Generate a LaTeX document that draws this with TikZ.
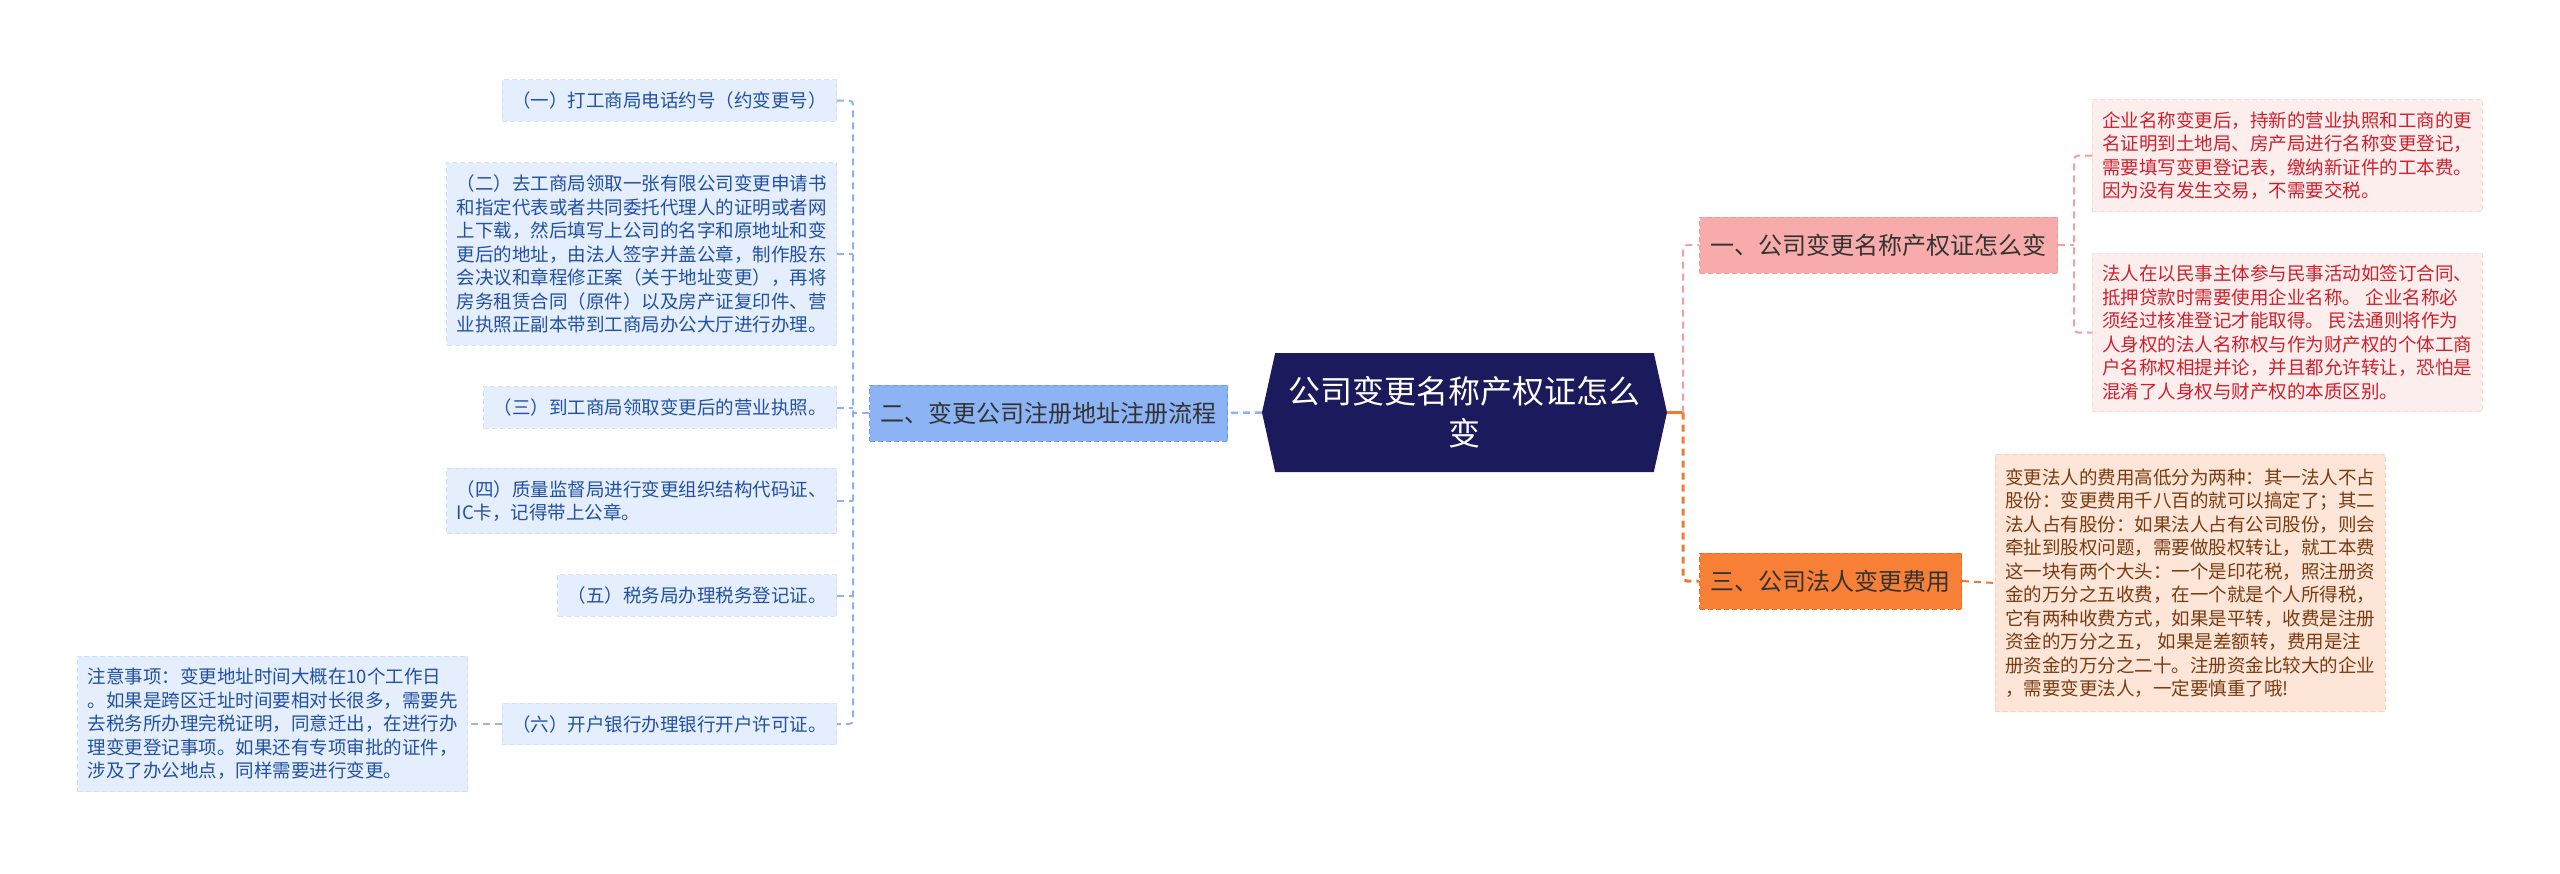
\documentclass[tikz,border=0pt]{standalone}
\usepackage{fontspec}
\setmainfont{Noto Sans CJK SC}
\usetikzlibrary{shapes.symbols}

\definecolor{hubnavy}{HTML}{1B1A5C}
\definecolor{leafblue}{HTML}{E5EEFC}
\definecolor{leafblueline}{HTML}{D2E0F8}
\definecolor{textblue}{HTML}{2150A5}
\definecolor{branchblue}{HTML}{8CB3F4}
\definecolor{branchblueline}{HTML}{6F9BE8}
\definecolor{linkblue}{HTML}{8FB1EE}
\definecolor{branchpink}{HTML}{F8ABAB}
\definecolor{branchpinkline}{HTML}{F29A9A}
\definecolor{leafpink}{HTML}{FDEEEE}
\definecolor{leafpinkline}{HTML}{F8DCDC}
\definecolor{textred}{HTML}{D0202C}
\definecolor{linkpink}{HTML}{F0A0A4}
\definecolor{branchorange}{HTML}{F77F36}
\definecolor{branchorangeline}{HTML}{E86A22}
\definecolor{leaforange}{HTML}{FDE5D8}
\definecolor{leaforangeline}{HTML}{F8D2BE}
\definecolor{textbrown}{HTML}{7A3B10}
\definecolor{linkorange}{HTML}{EE7B35}
\definecolor{linknote}{HTML}{A8B4C8}
\definecolor{textdark}{HTML}{333333}

\begin{document}
\begin{tikzpicture}[x=1pt,y=-1pt,
  leaf/.style={align=left,inner xsep=10pt,inner ysep=12pt,line width=0.8pt,
    dash pattern=on 5pt off 3pt,font=\fontsize{18.5}{23.5}\selectfont},
  blueleaf/.style={leaf,anchor=east,fill=leafblue,draw=leafblueline,text=textblue},
  pinkleaf/.style={leaf,anchor=west,fill=leafpink,draw=leafpinkline,text=textred},
  orangeleaf/.style={leaf,anchor=west,fill=leaforange,draw=leaforangeline,text=textbrown,inner ysep=14pt},
  branch/.style={inner xsep=11pt,minimum height=56pt,line width=1pt,
    dash pattern=on 5pt off 3pt,font=\fontsize{24}{30}\selectfont},
  linkdash/.style={line width=2pt,dash pattern=on 7pt off 5pt},
  bluedash/.style={linkdash,linkblue},
  pinkdash/.style={linkdash,linkpink},
  orangedash/.style={linkdash,linkorange}]

  \fill[white] (0,0) rectangle (2560,873);
  \useasboundingbox (0,0) rectangle (2560,873);

  % centre
  \node[shape=signal,signal to=west and east,signal pointer angle=155,
    fill=hubnavy,text=white,minimum width=405pt,minimum height=119pt,
    align=center,font=\fontsize{32}{42}\selectfont] (hub) at (1464.5,412.5)
    {公司变更名称产权证怎么\\变};

  % main branches
  \node[branch,anchor=east,fill=branchblue,draw=branchblueline,text=textdark] (br2) at (1228,413)
    {二、变更公司注册地址注册流程};
  \node[branch,anchor=west,fill=branchpink,draw=branchpinkline,text=textdark] (br1) at (1699,245)
    {一、公司变更名称产权证怎么变};
  \node[branch,anchor=west,fill=branchorange,draw=branchorangeline,text=textdark] (br3) at (1699,581)
    {三、公司法人变更费用};

  % left leaves
  \node[blueleaf] (n1) at (837,100.5) {（一）打工商局电话约号（约变更号）};
  \node[blueleaf] (n2) at (837,254) {（二）去工商局领取一张有限公司变更申请书\\
    和指定代表或者共同委托代理人的证明或者网\\
    上下载，然后填写上公司的名字和原地址和变\\
    更后的地址，由法人签字并盖公章，制作股东\\
    会决议和章程修正案（关于地址变更），再将\\
    房务租赁合同（原件）以及房产证复印件、营\\
    业执照正副本带到工商局办公大厅进行办理。};
  \node[blueleaf] (n3) at (837,407.5) {（三）到工商局领取变更后的营业执照。};
  \node[blueleaf] (n4) at (837,501) {（四）质量监督局进行变更组织结构代码证、\\IC卡，记得带上公章。};
  \node[blueleaf] (n5) at (837,595.5) {（五）税务局办理税务登记证。};
  \node[blueleaf] (n6) at (837,724) {（六）开户银行办理银行开户许可证。};
  \node[blueleaf] (note) at (468,724) {注意事项：变更地址时间大概在10个工作日\\
    。如果是跨区迁址时间要相对长很多，需要先\\
    去税务所办理完税证明，同意迁出，在进行办\\
    理变更登记事项。如果还有专项审批的证件，\\
    涉及了办公地点，同样需要进行变更。};

  % right leaves
  \node[pinkleaf] (la) at (2092,155.5) {企业名称变更后，持新的营业执照和工商的更\\
    名证明到土地局、房产局进行名称变更登记，\\
    需要填写变更登记表，缴纳新证件的工本费。\\
    因为没有发生交易，不需要交税。};
  \node[pinkleaf] (lb) at (2092,332.5) {法人在以民事主体参与民事活动如签订合同、\\
    抵押贷款时需要使用企业名称。 企业名称必\\
    须经过核准登记才能取得。 民法通则将作为\\
    人身权的法人名称权与作为财产权的个体工商\\
    户名称权相提并论，并且都允许转让，恐怕是\\
    混淆了人身权与财产权的本质区别。};
  \node[orangeleaf] (lc) at (1995,583) {变更法人的费用高低分为两种：其一法人不占\\
    股份：变更费用千八百的就可以搞定了；其二\\
    法人占有股份：如果法人占有公司股份，则会\\
    牵扯到股权问题，需要做股权转让，就工本费\\
    这一块有两个大头：一个是印花税，照注册资\\
    金的万分之五收费，在一个就是个人所得税，\\
    它有两种收费方式，如果是平转，收费是注册\\
    资金的万分之五， 如果是差额转，费用是注\\
    册资金的万分之二十。注册资金比较大的企业\\
    ，需要变更法人，一定要慎重了哦!};

  % connectors
  \coordinate (lbus) at (853,0);
  \coordinate (rbus) at (1683,0);
  \coordinate (pbus) at (2074,0);

  \draw[bluedash,line width=2.5pt] (hub.west) -- (br2.east);
  \draw[bluedash] (br2.west) -- (br2.west -| lbus);
  \draw[bluedash,rounded corners=4pt] (n1.east) -- (n1.east -| lbus) -- (n6.east -| lbus) -- (n6.east);
  \foreach \k in {n2,n3,n4,n5}
    \draw[bluedash] (\k.east) -- (\k.east -| lbus);
  \draw[linkdash,linknote] (n6.west) -- (note.east);

  \draw[linkorange,line width=3pt] (hub.east) -- (hub.east -| rbus);
  \draw[pinkdash,rounded corners=4pt] (hub.east -| rbus) |- (br1.west);
  \draw[orangedash,line width=3pt,rounded corners=4pt] (hub.east -| rbus) |- (br3.west);
  \draw[pinkdash] (br1.east) -- (br1.east -| pbus);
  \draw[pinkdash,rounded corners=4pt] (la.west) -- (la.west -| pbus) -- (lb.west -| pbus) -- (lb.west);
  \draw[orangedash] (br3.east) -- (lc.west);
\end{tikzpicture}
\end{document}
